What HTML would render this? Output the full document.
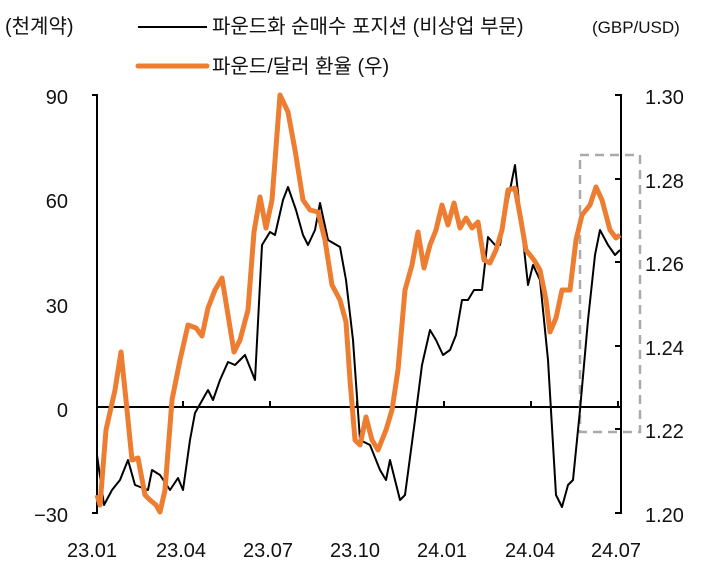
<!DOCTYPE html>
<html><head><meta charset="utf-8"><style>
body{margin:0;background:#fff;}
svg text{font-family:"Liberation Sans","Noto Sans CJK KR",sans-serif;fill:#111;}
</style></head><body>
<svg width="709" height="570" viewBox="0 0 709 570" xmlns="http://www.w3.org/2000/svg">
<text x="5" y="33" font-size="20">(천계약)</text>
<line x1="138" y1="27" x2="207" y2="27" stroke="#000" stroke-width="2"/>
<text x="212" y="33" font-size="20">파운드화 순매수 포지션 (비상업 부문)</text>
<text x="592" y="33" font-size="17">(GBP/USD)</text>
<line x1="138" y1="66" x2="207" y2="66" stroke="#ED7D31" stroke-width="5" stroke-linecap="round"/>
<text x="212" y="73" font-size="20">파운드/달러 환율 (우)</text>
<g font-size="20" text-anchor="end">
<text x="68" y="104">90</text><text x="68" y="208">60</text><text x="68" y="313">30</text><text x="68" y="417">0</text><text x="68" y="522">−30</text>
</g>
<g font-size="20">
<text x="645" y="104">1.30</text><text x="645" y="188">1.28</text><text x="645" y="271">1.26</text><text x="645" y="355">1.24</text><text x="645" y="438">1.22</text><text x="645" y="522">1.20</text>
</g>
<g font-size="20" text-anchor="middle">
<text x="92" y="557">23.01</text><text x="181" y="557">23.04</text><text x="268" y="557">23.07</text><text x="355" y="557">23.10</text><text x="442" y="557">24.01</text><text x="530" y="557">24.04</text><text x="616" y="557">24.07</text>
</g>
<g stroke="#000" stroke-width="2" fill="none">
<path d="M92 95H97V513H92"/>
<path d="M615 95H621V513H615"/>
<line x1="97" y1="407" x2="621" y2="407"/>
<path d="M183 407v-6M270 407v-6M357 407v-6M444 407v-6M531 407v-6M618 407v-6"/>
<path d="M615 179h6M615 262h6M615 346h6M615 429h6"/>
</g>
<rect x="580" y="155" width="60" height="277" fill="none" stroke="#aaa" stroke-width="2.5" stroke-dasharray="9,6"/>
<polyline fill="none" stroke="#000" stroke-width="2" stroke-linejoin="round" points="97,455 104,505 112,490 120,480 128,460 135,485 148,490 152,470 160,475 170,490 178,478 183,490 190,440 195,413 208,390 213,400 220,380 228,362 235,365 245,355 255,380 262,245 270,232 275,235 283,200 288,187 296,210 303,235 308,245 315,230 320,203 328,240 340,247 346,280 353,340 360,440 370,445 380,470 386,480 390,460 400,500 405,495 415,420 422,365 430,330 436,340 443,355 450,350 456,335 462,300 468,300 474,290 482,290 488,237 495,245 500,245 508,200 515,165 522,230 528,285 533,265 540,280 548,360 556,495 562,507 568,485 573,480 580,410 588,320 595,255 600,230 608,245 615,255 620,250"/>
<polyline fill="none" stroke="#ED7D31" stroke-width="5" stroke-linejoin="round" points="97,495 100,505 106,430 115,390 121,352 126,400 132,460 138,458 145,495 150,500 156,505 160,512 165,490 172,400 180,360 188,325 196,328 202,336 208,308 215,290 222,278 228,315 234,352 240,340 248,310 254,232 260,197 266,228 272,200 280,95 288,112 295,150 303,200 310,210 318,212 325,240 332,285 340,300 346,322 350,380 355,440 360,445 366,417 372,440 378,450 386,430 392,410 398,370 405,290 412,265 418,232 424,268 430,245 436,230 442,205 448,225 454,203 460,228 466,218 472,228 478,222 484,260 490,263 496,250 502,230 508,190 515,188 520,215 526,250 534,260 540,270 546,300 550,332 556,318 562,290 570,290 576,240 582,215 590,205 596,187 602,200 610,230 616,238 620,235"/>
</svg>
</body></html>
